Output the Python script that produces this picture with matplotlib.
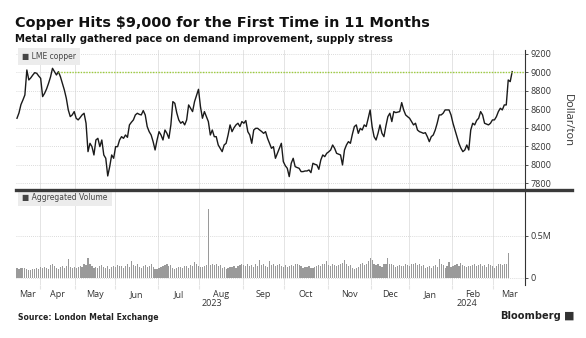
import matplotlib
matplotlib.use("Agg")
import matplotlib.pyplot as plt
import numpy as np
import pandas as pd
from matplotlib.lines import Line2D
from matplotlib.transforms import blended_transform_factory

# trading calendar (LME closed on these days)
first_day = "2023-03-16"
last_day = "2024-03-14"
holidays = ["2023-04-07", "2023-04-10", "2023-05-01", "2023-05-08", "2023-05-29",
            "2023-08-28", "2023-12-25", "2023-12-26", "2024-01-01"]

# LME copper close, dollar/ton, one per trading day
price = [
    8503, 8560, 8650, 8700, 8755, 9025, 8917, 8940, 8970, 8996, 8989, 8960,
    8935, 8737, 8773, 8820, 8881, 8950, 9043, 9007, 8971, 9007, 8953, 8880,
    8809, 8719, 8593, 8521, 8539, 8575, 8503, 8485, 8510, 8539, 8557, 8449,
    8142, 8232, 8196, 8106, 8268, 8286, 8196, 8268, 8106, 8070, 7879, 7980,
    8106, 8070, 8196, 8196, 8268, 8304, 8286, 8322, 8297, 8431, 8460, 8485,
    8539, 8557, 8545, 8539, 8586, 8539, 8413, 8358, 8322, 8250, 8160, 8268,
    8358, 8322, 8268, 8376, 8340, 8286, 8431, 8683, 8665, 8560, 8485, 8449,
    8467, 8431, 8485, 8647, 8611, 8575, 8683, 8750, 8816, 8629, 8503, 8575,
    8521, 8467, 8322, 8376, 8304, 8304, 8214, 8178, 8142, 8214, 8232, 8322,
    8431, 8358, 8400, 8431, 8449, 8413, 8467, 8449, 8478, 8358, 8322, 8232,
    8376, 8394, 8394, 8376, 8360, 8340, 8358, 8286, 8232, 8178, 8196, 8070,
    8124, 8178, 8232, 8034, 7990, 7962, 7872, 8016, 8070, 7980, 7970, 7962,
    7926, 7926, 7933, 7933, 7944, 7915, 8016, 8005, 7998, 7951, 8052, 8106,
    8088, 8124, 8140, 8160, 8214, 8178, 8124, 8115, 8106, 7998, 8160, 8214,
    8250, 8232, 8330, 8413, 8431, 8340, 8394, 8376, 8431, 8413, 8500, 8593,
    8413, 8304, 8268, 8340, 8431, 8340, 8304, 8420, 8521, 8557, 8467, 8575,
    8564, 8570, 8575, 8672, 8593, 8539, 8520, 8503, 8467, 8431, 8449, 8376,
    8358, 8350, 8340, 8347, 8304, 8250, 8304, 8322, 8376, 8450, 8539, 8539,
    8557, 8593, 8593, 8593, 8539, 8449, 8376, 8304, 8232, 8180, 8142, 8160,
    8214, 8160, 8376, 8449, 8431, 8480, 8503, 8575, 8539, 8449, 8440, 8431,
    8449, 8485, 8485, 8520, 8575, 8611, 8593, 8647, 8647, 8917, 8899, 9007,
]

# aggregated volume, thousands of lots
volume_k = [
    115, 110, 118, 112, 116, 108, 95, 90, 100, 105,
    120, 110, 125, 112, 130, 118, 108, 150, 160, 145,
    120, 110, 125, 135, 115, 140, 220, 130, 120, 125,
    115, 128, 140, 130, 160, 150, 240, 160, 135, 120,
    130, 112, 140, 150, 130, 120, 145, 110, 125, 140,
    130, 150, 145, 135, 120, 140, 160, 130, 200, 150,
    140, 165, 130, 120, 145, 150, 130, 140, 160, 125,
    110, 105, 120, 130, 140, 150, 160, 145, 150, 120,
    110, 115, 130, 125, 120, 135, 140, 120, 150, 135,
    185, 170, 140, 125, 130, 140, 150, 810, 150, 160,
    155, 170, 140, 150, 120, 125, 110, 115, 130, 125,
    140, 120, 135, 155, 160, 150, 140, 170, 135, 150,
    130, 160, 145, 210, 150, 165, 140, 130, 205, 150,
    160, 145, 150, 165, 140, 130, 150, 125, 140, 150,
    135, 160, 170, 155, 140, 120, 125, 130, 140, 120,
    115, 130, 145, 150, 135, 160, 170, 200, 150, 140,
    165, 150, 140, 155, 170, 180, 210, 160, 140, 150,
    120, 105, 115, 130, 165, 180, 150, 160, 200, 240,
    210, 170, 150, 160, 140, 130, 170, 160, 230, 170,
    160, 150, 130, 140, 150, 145, 140, 160, 150, 145,
    160, 170, 175, 150, 165, 140, 150, 120, 130, 140,
    120, 145, 150, 130, 220, 160, 150, 120, 140, 190,
    130, 145, 150, 160, 140, 180, 150, 135, 130, 140,
    145, 150, 160, 140, 150, 165, 145, 150, 130, 160,
    150, 140, 120, 135, 160, 170, 150, 165, 170, 290,
]

price_ticks = [7800, 8000, 8200, 8400, 8600, 8800, 9000, 9200]
volume_ticks = [0, 0.5]
volume_labels = ["0", "0.5M"]

days = pd.bdate_range(first_day, last_day)
days = days[~days.isin(pd.to_datetime(holidays))]
months = days.to_period("M")
starts = np.flatnonzero(months[1:] != months[:-1]) + 1
bounds = starts - 0.5
xlim = (-0.5, 257.5)

edges = np.concatenate([[xlim[0]], bounds, [xlim[1]]])
label_pos = (edges[:-1] + edges[1:]) / 2
label_txt = [days[0].strftime("%b")] + [days[s].strftime("%b") for s in starts]
jan = bounds[[days[s].month == 1 for s in starts].index(True)]
year_pos = [(xlim[0] + jan) / 2, (jan + xlim[1]) / 2]
year_txt = ["2023", "2024"]

W, H = 586, 338
fig = plt.figure(figsize=(W / 100, H / 100), dpi=100)
fig.patch.set_facecolor("white")

tick_font = {"family": "Open Sans", "size": 6.5}
dark = "#333333"


def px(x, y):
    return x / W, 1 - y / H


ax1 = fig.add_axes([16 / W, 1 - 189 / H, 509 / W, 139 / H])
ax2 = fig.add_axes([16 / W, 1 - 285 / H, 509 / W, 95 / H])

for ax in (ax1, ax2):
    ax.set_xlim(*xlim)
    for s in ("top", "left", "bottom"):
        ax.spines[s].set_visible(False)
    ax.spines["right"].set_color(dark)
    ax.spines["right"].set_linewidth(0.8)
    ax.yaxis.tick_right()
    ax.tick_params(axis="y", length=2.5, width=0.6, pad=1.5, colors=dark, labelsize=6.5)
    ax.set_xticks(bounds)
    ax.grid(axis="x", color="#e4e4e4", lw=0.7)
    ax.grid(axis="y", color="#cfcfcf", lw=0.6, ls=(0, (1, 1.5)))
    ax.set_axisbelow(True)
    for lab in ax.get_yticklabels():
        lab.set_fontfamily("Open Sans")

# price panel
x = np.arange(len(price))
ax1.plot(x, price, color="#1a1a1a", lw=1.0)
ax1.set_ylim(7738, 9241)
ax1.set_yticks(price_ticks)
ax1.set_yticklabels([str(t) for t in price_ticks], fontdict=tick_font, color=dark)
ax1.tick_params(axis="x", length=0, labelbottom=False)
last_9000 = np.flatnonzero(np.array(price[:-2]) >= 9000)[-1]
ax1.hlines(9000, last_9000, xlim[1], colors="#9ccc3c", lw=1.0, ls=(0, (1, 1)))
ax1.text(0.012, 0.985, "\u25a0 LME copper", transform=ax1.transAxes, fontsize=5.5,
         color="#444444", va="top", ha="left",
         bbox=dict(facecolor="#ececec", edgecolor="none", boxstyle="square,pad=0.55"))

# volume panel
xv = np.arange(len(volume_k))
ax2.bar(xv, np.array(volume_k) / 1000, width=0.6, color="#9a9a9a", lw=0)
ax2.set_ylim(-0.083, 1.036)
ax2.set_yticks(volume_ticks)
ax2.set_yticklabels(volume_labels, fontdict=tick_font, color=dark)
ax2.set_xticks(label_pos, minor=True)
ax2.set_xticklabels(label_txt, minor=True, fontdict=tick_font, color=dark)
ax2.tick_params(axis="x", which="major", length=3, color="#e4e4e4", labelbottom=False)
ax2.tick_params(axis="x", which="minor", length=0, pad=3.5)
ax2.text(0.012, 0.97, "\u25a0 Aggregated Volume", transform=ax2.transAxes, fontsize=5.5,
         color="#444444", va="top", ha="left",
         bbox=dict(facecolor="#ececec", edgecolor="none", boxstyle="square,pad=0.55"))
tr = blended_transform_factory(ax2.transData, fig.transFigure)
for p, t in zip(year_pos, year_txt):
    ax2.text(p, 1 - 303.5 / H, t, transform=tr, ha="center", va="center",
             fontdict=tick_font, color=dark)

# heavy divider between the panels
fig.add_artist(Line2D([16 / W, 572 / W], [1 - 190 / H] * 2, color="#3a3a3a", lw=2.4))

fig.text(*px(567, 120), "Dollar/ton", rotation=270, ha="center", va="center",
         fontsize=8, family="Open Sans", color=dark)

title = fig.text(*px(15, 23), "Copper Hits $9,000 for the First Time in 11 Months",
                 fontsize=12, fontweight="bold", va="center", ha="left", color="#111111")
sub = fig.text(*px(15, 38.5), "Metal rally gathered pace on demand improvement, supply stress",
               fontsize=8, fontweight="bold", va="center", ha="left", color="#111111")
src = fig.text(*px(18, 317), "Source: London Metal Exchange", fontsize=6,
               fontweight="bold", va="center", ha="left", color="#222222")
brand = fig.text(*px(561, 316), "Bloomberg", fontsize=8, fontweight="bold",
                 va="center", ha="right", color="#222222")
fig.text(*px(569, 315.5), "\u25a0", fontsize=8, va="center", ha="center", color="#333333")

# scale the headline texts to the widths measured on the reference
r = fig.canvas.get_renderer()
for t, w in ((title, 412), (sub, 378), (src, 142), (brand, 60)):
    t.set_fontsize(t.get_fontsize() * w / t.get_window_extent(r).width)

fig.savefig("out.png", dpi=100)
